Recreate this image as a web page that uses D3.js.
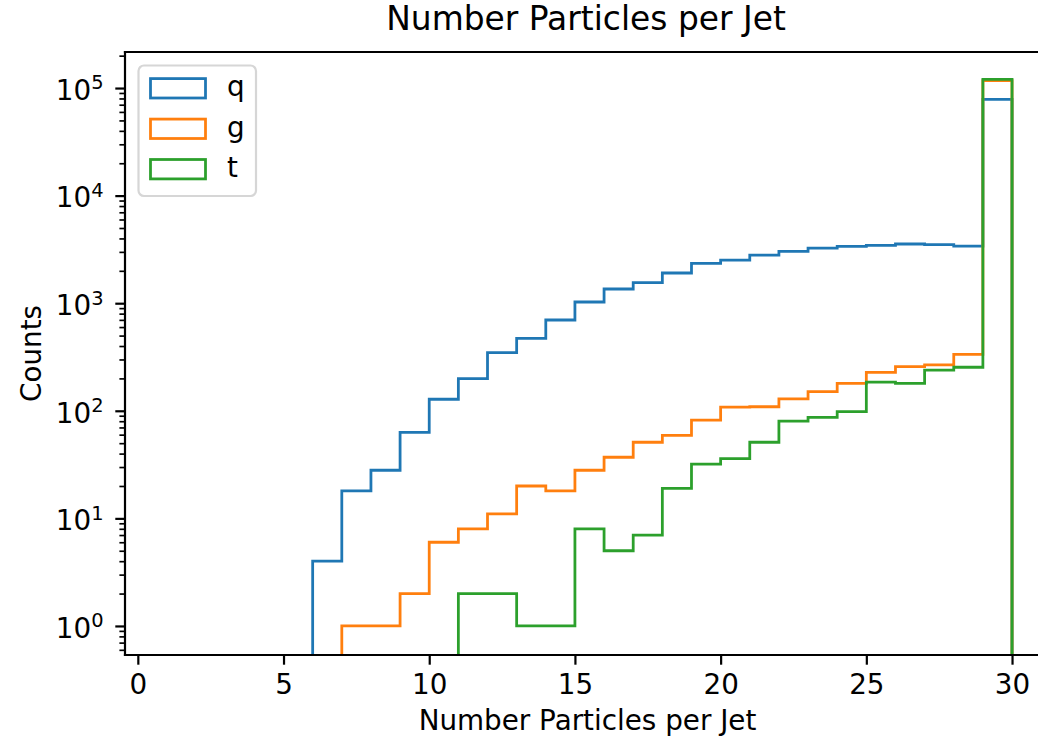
<!DOCTYPE html>
<html>
<head>
<meta charset="utf-8">
<script src="https://cdn.jsdelivr.net/npm/d3@7"></script>
<style>
  html, body { margin: 0; padding: 0; background: #ffffff; }
  svg { display: block; }
  text { font-family: "DejaVu Sans", sans-serif; fill: #000; }
</style>
</head>
<body>
<svg id="chart" width="1038" height="737"></svg>
<script>
// Histogram bin edges (integer particle counts) and per-bin counts
const binEdges = d3.range(0, 31);            // 0, 1, ..., 30
const seriesNames = ["q", "g", "t"];
const seriesColors = ["#1f77b4", "#ff7f0e", "#2ca02c"];

const countsQ = [0, 0, 0, 0, 0, 0, 4, 18, 28, 63, 128, 199, 347, 472, 698, 1026, 1355, 1550,
                 1909, 2349, 2519, 2804, 3035, 3257, 3379, 3453, 3551, 3500, 3400, 78500];
const countsG = [0, 0, 0, 0, 0, 0, 0, 1, 1, 2, 6, 8, 11, 20, 18, 28, 37, 51,
                 59, 82, 108, 109, 129, 151, 180, 228, 257, 267, 335, 117000];
const countsT = [0, 0, 0, 0, 0, 0, 0, 0, 0, 0, 0, 2, 2, 1, 1, 8, 5, 7,
                 19, 32, 36, 51, 80, 87, 98, 185, 180, 239, 254, 120500];

const xTickValues = [0, 5, 10, 15, 20, 25, 30];
const yTickExponents = [0, 1, 2, 3, 4, 5];

const titleText = "Number Particles per Jet";
const xLabelText = "Number Particles per Jet";
const yLabelText = "Counts";

// Layout
const plot = { left: 125, right: 1047, top: 52, bottom: 655 };
const tickFont = 27.8, titleFont = 32.9;
const lw = 2.78, spineW = 2.2;

const svg = d3.select("#chart");

const x = d3.scaleLinear().domain([-0.44, 31.2]).range([plot.left, plot.right]);
const y = d3.scaleLog().domain([Math.pow(10, -0.27), Math.pow(10, 5.335)]).range([plot.bottom, plot.top]);

// Clip for the histogram outlines
svg.append("defs").append("clipPath").attr("id", "plotClip")
  .append("rect")
  .attr("x", plot.left).attr("y", plot.top)
  .attr("width", plot.right - plot.left).attr("height", plot.bottom - plot.top);

// Step outline of a histogram: rises from the floor, follows every bin, drops back at the end
const floorValue = 1e-3;
function stepPoints(counts) {
  const pts = [[binEdges[0], floorValue]];
  counts.forEach((c, i) => {
    const v = c > 0 ? c : floorValue;
    pts.push([binEdges[i], v]);
    pts.push([binEdges[i + 1], v]);
  });
  pts.push([binEdges[binEdges.length - 1], floorValue]);
  return pts;
}

const line = d3.line().x(d => x(d[0])).y(d => y(d[1]));
const allCounts = [countsQ, countsG, countsT];

const histG = svg.append("g").attr("clip-path", "url(#plotClip)");
allCounts.forEach((counts, i) => {
  histG.append("path")
    .attr("d", line(stepPoints(counts)))
    .attr("fill", "none")
    .attr("stroke", seriesColors[i])
    .attr("stroke-width", lw)
    .attr("stroke-linejoin", "miter");
});

// Minor log ticks
const yMinor = [];
for (let e = -1; e <= 5; e++) {
  for (let m = 2; m <= 9; m++) {
    const v = m * Math.pow(10, e);
    if (v >= y.domain()[0] && v <= y.domain()[1]) yMinor.push(v);
  }
}

const yMinorAxis = svg.append("g").attr("transform", `translate(${plot.left},0)`)
  .call(d3.axisLeft(y).tickValues(yMinor).tickSize(5.6).tickSizeOuter(0).tickFormat(""));
yMinorAxis.select(".domain").remove();
yMinorAxis.selectAll("line").attr("stroke", "#000").attr("stroke-width", 1.67);

// Major y ticks with power-of-ten labels
const yMajorAxis = svg.append("g").attr("transform", `translate(${plot.left},0)`)
  .call(d3.axisLeft(y).tickValues(yTickExponents.map(e => Math.pow(10, e)))
    .tickSize(9.7).tickPadding(9.7).tickSizeOuter(0).tickFormat(""));
yMajorAxis.select(".domain").remove();
yMajorAxis.selectAll("line").attr("stroke", "#000").attr("stroke-width", spineW);
yMajorAxis.selectAll(".tick text").each(function (d) {
  const t = d3.select(this);
  const exp = Math.round(Math.log10(d));
  t.attr("x", -21.5).attr("dy", null).attr("y", 11.3)
    .attr("font-size", tickFont).attr("font-family", "DejaVu Sans").attr("text-anchor", "end");
  t.text(null);
  t.append("tspan").text("10");
  t.append("tspan").attr("font-size", tickFont * 0.7).attr("dy", -10.5).text(String(exp));
});

// Major x ticks
const xAxis = svg.append("g").attr("transform", `translate(0,${plot.bottom})`)
  .call(d3.axisBottom(x).tickValues(xTickValues).tickSize(9.7).tickPadding(9.7).tickSizeOuter(0)
    .tickFormat(d3.format("d")));
xAxis.select(".domain").remove();
xAxis.selectAll("line").attr("stroke", "#000").attr("stroke-width", spineW);
xAxis.selectAll("text").attr("font-size", tickFont).attr("font-family", "DejaVu Sans").attr("fill", "#000");

// Spines
const spines = svg.append("g").attr("stroke", "#000").attr("stroke-width", spineW)
  .attr("stroke-linecap", "square");
spines.append("line").attr("x1", plot.left).attr("x2", plot.left).attr("y1", plot.top).attr("y2", plot.bottom);
spines.append("line").attr("x1", plot.right).attr("x2", plot.right).attr("y1", plot.top).attr("y2", plot.bottom);
spines.append("line").attr("x1", plot.left).attr("x2", plot.right).attr("y1", plot.top).attr("y2", plot.top);
spines.append("line").attr("x1", plot.left).attr("x2", plot.right).attr("y1", plot.bottom).attr("y2", plot.bottom);

// Title and axis labels
const midX = (plot.left + plot.right) / 2;
svg.append("text").attr("x", midX).attr("y", 30).attr("text-anchor", "middle")
  .attr("font-size", titleFont).text(titleText);
svg.append("text").attr("x", midX + 1.5).attr("y", 730).attr("text-anchor", "middle")
  .attr("font-size", tickFont).text(xLabelText);
svg.append("text")
  .attr("transform", `translate(40.7,${(plot.top + plot.bottom) / 2}) rotate(-90)`)
  .attr("text-anchor", "middle").attr("font-size", tickFont).text(yLabelText);

// Legend
const legend = svg.append("g");
legend.append("rect")
  .attr("x", 138.5).attr("y", 65.5).attr("width", 117.5).attr("height", 130.5)
  .attr("rx", 5.5).attr("ry", 5.5)
  .attr("fill", "#ffffff").attr("fill-opacity", 0.8)
  .attr("stroke", "#d6d6d6").attr("stroke-width", 2.2);

const legendCenters = [88.3, 128.8, 169.2];
seriesNames.forEach((name, i) => {
  legend.append("rect")
    .attr("x", 150.5).attr("y", legendCenters[i] - 9.7)
    .attr("width", 55).attr("height", 19.4)
    .attr("fill", "none").attr("stroke", seriesColors[i]).attr("stroke-width", lw);
  legend.append("text")
    .attr("x", 227).attr("y", legendCenters[i] + 8)
    .attr("font-size", tickFont).text(name);
});
</script>
</body>
</html>
